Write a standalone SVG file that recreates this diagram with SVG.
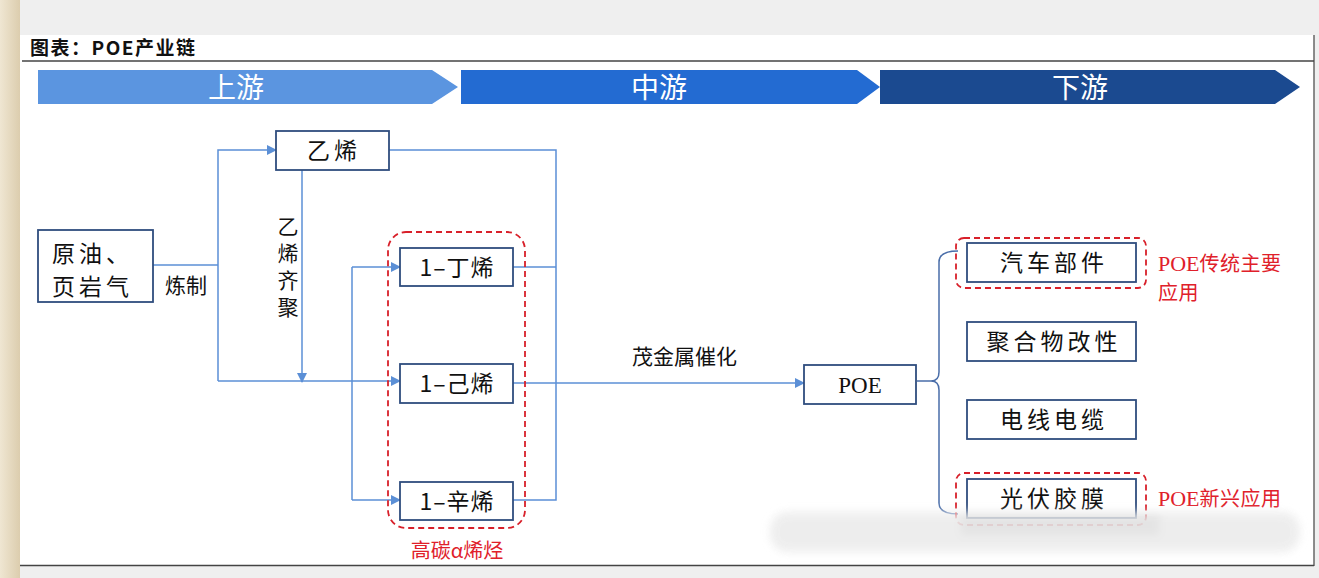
<svg xmlns="http://www.w3.org/2000/svg" width="1319" height="578" viewBox="0 0 1319 578">
<style>
.box{fill:#fff;stroke:#2f4d7e;stroke-width:1.8}
.bt{font-family:"Noto Sans CJK SC","Noto Sans",sans-serif;font-size:23px;fill:#111;text-anchor:middle;letter-spacing:4px}
.bts{font-family:"Noto Sans CJK SC","Noto Sans",sans-serif;font-size:23px;fill:#111;text-anchor:start;letter-spacing:4px}
.btn{font-family:"Noto Sans CJK SC","Noto Sans",sans-serif;font-size:23px;fill:#111;text-anchor:middle;letter-spacing:1px}
.lbl{font-family:"Noto Sans CJK SC","Noto Sans",sans-serif;font-size:21px;fill:#111}
.vl{font-family:"Noto Sans CJK SC","Noto Sans",sans-serif;font-size:21px;fill:#111;writing-mode:vertical-rl;letter-spacing:6px}
.red{font-family:"Liberation Serif","Noto Sans CJK SC",serif;font-size:22px;fill:#e0202a}
.redc{font-family:"Noto Sans CJK SC",sans-serif;font-size:20px;letter-spacing:0.5px}
.redbox{fill:none;stroke:#d8202a;stroke-width:1.8;stroke-dasharray:6 4}
.con{fill:none;stroke:#5b8fd6;stroke-width:1.5}
.band{font-family:"Noto Sans CJK SC","Noto Sans",sans-serif;font-size:28px;fill:#fff;text-anchor:middle}
</style>
<defs>
<marker id="ar" markerUnits="userSpaceOnUse" markerWidth="10" markerHeight="10" refX="9" refY="5" orient="auto">
<path d="M0,0 L10,5 L0,10 z" fill="#5b8fd6"/>
</marker>
<linearGradient id="beige" x1="0" x2="1" y1="0" y2="0">
<stop offset="0" stop-color="#efe6d2"/><stop offset="1" stop-color="#dccdae"/>
</linearGradient>
<filter id="blur" x="-10%" y="-50%" width="120%" height="200%"><feGaussianBlur stdDeviation="4"/></filter>
</defs>

<!-- page chrome -->
<rect x="0" y="0" width="1319" height="578" fill="#efefef"/>
<rect x="0" y="0" width="20" height="578" fill="url(#beige)"/>
<rect x="20" y="35" width="1294" height="530" fill="#fff"/>
<line x1="1314" y1="35" x2="1314" y2="566" stroke="#666" stroke-width="1.5"/>
<line x1="20" y1="565.5" x2="1314" y2="565.5" stroke="#444" stroke-width="1.5"/>
<line x1="22" y1="61" x2="1314" y2="61" stroke="#444" stroke-width="1.5"/>
<text x="30" y="55" font-family="'Noto Sans CJK SC',sans-serif" font-weight="700" font-size="19" letter-spacing="1.5" fill="#111">图表：POE产业链</text>

<!-- stage bands -->
<g id="band-up">
<polygon points="38,70 432,70 458,87 432,104 38,104" fill="#5b95e0"/>
<text class="band" x="236" y="98">上游</text>
</g>
<g id="band-mid">
<polygon points="461,70 857,70 880,87 857,104 461,104" fill="#236bd2"/>
<text class="band" x="659" y="98">中游</text>
</g>
<g id="band-down">
<polygon points="880,70 1275,70 1300,87 1275,104 880,104" fill="#1b4a90"/>
<text class="band" x="1080" y="98">下游</text>
</g>

<!-- connectors -->
<g id="connectors">
<path class="con" d="M153,265 H218"/>
<path class="con" d="M218,381 V150 H276" marker-end="url(#ar)"/>
<path class="con" d="M218,381 H400" marker-end="url(#ar)"/>
<path class="con" d="M302,170 V382" marker-end="url(#ar)"/>
<path class="con" d="M389,150 H556 V500 H513"/>
<path class="con" d="M513,267 H556"/>
<path class="con" d="M352,267 V500"/>
<path class="con" d="M352,267 H400" marker-end="url(#ar)"/>
<path class="con" d="M352,500 H400" marker-end="url(#ar)"/>
<path class="con" d="M513,383 H804" marker-end="url(#ar)"/>
<path d="M917,381 H931 Q939,381 939,372 V262 Q939,251 958,251 M931,381 Q939,381 939,390 V503 Q939,514 958,514" fill="none" stroke="#4a6ea9" stroke-width="1.5"/>
</g>

<!-- labels -->
<text class="lbl" x="165" y="293">炼制</text>
<text class="vl" x="288" y="216">乙烯齐聚</text>
<text class="lbl" x="632" y="364">茂金属催化</text>

<!-- nodes -->
<g id="n-crude">
<rect class="box" x="38" y="230" width="115" height="72"/>
<text class="bts" x="52" y="262">原油、<tspan x="52" dy="33">页岩气</tspan></text>
</g>
<g id="n-ethylene">
<rect class="box" x="276" y="131" width="113" height="39"/>
<text class="bt" x="334" y="159">乙烯</text>
</g>
<g id="n-alpha-group">
<rect class="redbox" x="388" y="232" width="137" height="296" rx="18"/>
<text x="457" y="558" font-family="'Noto Sans CJK SC',sans-serif" font-size="20" fill="#e0202a" text-anchor="middle">高碳α烯烃</text>
</g>
<g id="n-butene">
<rect class="box" x="400" y="248" width="113" height="38"/>
<text class="btn" x="457" y="276">1–丁烯</text>
</g>
<g id="n-hexene">
<rect class="box" x="400" y="364" width="113" height="39"/>
<text class="btn" x="457" y="392">1–己烯</text>
</g>
<g id="n-octene">
<rect class="box" x="400" y="482" width="113" height="38"/>
<text class="btn" x="457" y="510">1–辛烯</text>
</g>
<g id="n-poe">
<rect class="box" x="804" y="365" width="112" height="39"/>
<text x="860" y="393" font-family="'Liberation Serif',serif" font-size="23" fill="#111" text-anchor="middle">POE</text>
</g>
<g id="n-auto">
<rect class="redbox" x="956" y="238" width="190" height="50" rx="8"/>
<rect class="box" x="967" y="243" width="169" height="39"/>
<text class="bt" x="1054" y="271">汽车部件</text>
<text class="red" x="1158" y="271">POE<tspan class="redc">传统主要</tspan><tspan class="redc" x="1158" dy="29">应用</tspan></text>
</g>
<g id="n-polymer">
<rect class="box" x="967" y="322" width="169" height="39"/>
<text class="bt" x="1054" y="350">聚合物改性</text>
</g>
<g id="n-cable">
<rect class="box" x="967" y="400" width="169" height="39"/>
<text class="bt" x="1054" y="428">电线电缆</text>
</g>
<g id="n-pv">
<rect class="redbox" x="956" y="473" width="190" height="52" rx="8"/>
<rect class="box" x="967" y="479" width="169" height="39"/>
<text class="bt" x="1054" y="507">光伏胶膜</text>
<text class="red" x="1158" y="506">POE<tspan class="redc">新兴应用</tspan></text>
</g>

<!-- watermark haze -->
<g filter="url(#blur)" opacity="0.9">
<rect x="770" y="512" width="530" height="40" rx="18" fill="#ececec"/>
<rect x="960" y="514" width="200" height="22" fill="#e2e2e2"/>
</g>
</svg>
